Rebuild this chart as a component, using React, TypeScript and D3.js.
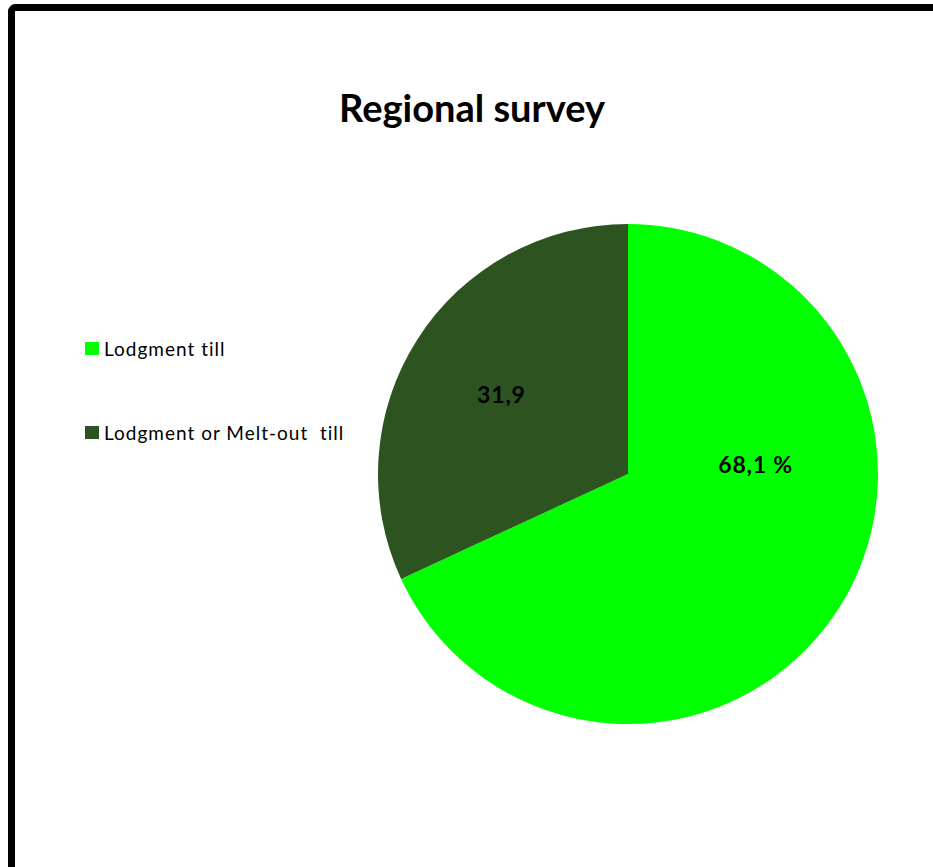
import React from "react";
import * as d3 from "d3";

const categories = ["Lodgment till", "Lodgment or Melt-out  till"];
const values = [68.1, 31.9];
const labels = ["68,1 %", "31,9"];
const colors = ["#00FF00", "#2D5320"];
const title = "Regional survey";

// label placement tweaks (layout only)
const labelOffsets: [number, number][] = [[17, -80], [-16, -8]];

export default function App() {
  const W = 933, H = 867;
  const cx = 628, cy = 474, r = 250;
  const pie = d3.pie<number>().sort(null).value((d) => d)(values);
  const arc = d3.arc<d3.PieArcDatum<number>>().innerRadius(0).outerRadius(r);
  const labelArc = d3.arc<d3.PieArcDatum<number>>().innerRadius(0).outerRadius(r * 1.05);
  const font = "Lato, 'Open Sans', sans-serif";
  return (
    <svg width={W} height={H} style={{ position: "absolute", left: 0, top: 0 }}>
      <rect x={0} y={0} width={W} height={H} fill="#fff" />
      <rect x={11.5} y={7.5} width={W + 20} height={H + 20} rx={4} fill="#fff" stroke="#000" strokeWidth={7} />
      <text x={472} y={122} textAnchor="middle" fontFamily={font} fontWeight="bold" fontSize={38} fill="#000">
        {title}
      </text>
      <g transform={`translate(${cx},${cy})`}>
        {pie.map((p, i) => (
          <path key={i} d={arc(p) || ""} fill={colors[i]} />
        ))}
        {pie.map((p, i) => {
          const [x, y] = labelArc.centroid(p);
          return (
            <text key={"l" + i} x={x + labelOffsets[i][0]} y={y + labelOffsets[i][1]} textAnchor="middle" dy="0.35em"
              fontFamily={font} fontWeight="bold" fontSize={23} letterSpacing={0.8} fill="#000">
              {labels[i]}
            </text>
          );
        })}
      </g>
      {categories.map((c, i) => (
        <g key={c} transform={`translate(85,${342 + i * 84})`}>
          <rect x={0} y={0} width={14} height={13} fill={colors[i]} />
          <text x={19} y={14} fontFamily={font} fontSize={19} letterSpacing={1} fill="#000" style={{ whiteSpace: "pre" }}>{c}</text>
        </g>
      ))}
    </svg>
  );
}
